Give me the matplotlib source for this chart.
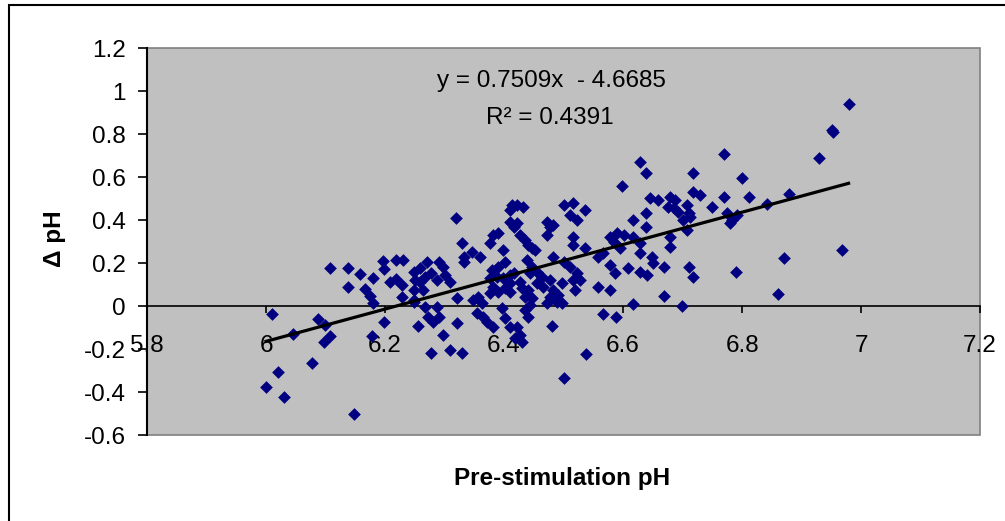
import matplotlib
matplotlib.use("Agg")
import matplotlib.pyplot as plt
import numpy as np
from matplotlib.patches import Rectangle
from matplotlib.ticker import FuncFormatter

plt.rcParams['font.family'] = ['Liberation Sans', 'DejaVu Sans']

# values
pre_ph = [
    6.010, 6.020, 6.000, 6.030, 6.046, 6.077, 6.087, 6.099, 6.108, 6.097,
    6.108, 6.137, 6.158, 6.179, 6.137, 6.166, 6.175, 6.179, 6.148, 6.197,
    6.218, 6.198, 6.208, 6.218, 6.228, 6.228, 6.248, 6.250, 6.248, 6.249,
    6.198, 6.255, 6.178, 6.231, 6.259, 6.270, 6.267, 6.278, 6.290, 6.298,
    6.301, 6.287, 6.309, 6.259, 6.264, 6.248, 6.319, 6.329, 6.346, 6.360,
    6.332, 6.332, 6.413, 6.421, 6.432, 6.410, 6.410, 6.421, 6.416, 6.382,
    6.390, 6.376, 6.427, 6.435, 6.441, 6.447, 6.452, 6.472, 6.477, 6.483,
    6.472, 6.483, 6.500, 6.516, 6.511, 6.522, 6.536, 6.516, 6.516, 6.500,
    6.511, 6.522, 6.516, 6.399, 6.402, 6.390, 6.379, 6.376, 6.388, 6.399,
    6.410, 6.416, 6.427, 6.410, 6.402, 6.382, 6.376, 6.390, 6.410, 6.438,
    6.447, 6.455, 6.444, 6.463, 6.455, 6.466, 6.441, 6.430, 6.435, 6.447,
    6.435, 6.444, 6.441, 6.477, 6.483, 6.491, 6.489, 6.477, 6.472, 6.480,
    6.519, 6.267, 6.287, 6.273, 6.290, 6.281, 6.298, 6.321, 6.321, 6.309,
    6.329, 6.278, 6.357, 6.348, 6.363, 6.354, 6.365, 6.371, 6.382, 6.396,
    6.402, 6.410, 6.421, 6.427, 6.430, 6.418, 6.629, 6.639, 6.598, 6.718,
    6.769, 6.645, 6.659, 6.679, 6.687, 6.676, 6.685, 6.693, 6.707, 6.710,
    6.718, 6.729, 6.749, 6.769, 6.701, 6.707, 6.617, 6.639, 6.639, 6.578,
    6.589, 6.601, 6.584, 6.595, 6.536, 6.558, 6.567, 6.629, 6.629, 6.648,
    6.651, 6.679, 6.679, 6.578, 6.587, 6.609, 6.629, 6.640, 6.668, 6.710,
    6.718, 6.528, 6.497, 6.558, 6.578, 6.669, 6.617, 6.699, 6.567, 6.588,
    6.497, 6.979, 6.951, 6.953, 6.930, 6.800, 6.811, 6.842, 6.879, 6.774,
    6.783, 6.791, 6.780, 6.968, 6.871, 6.789, 6.861, 6.538, 6.500, 6.713,
    6.617,
]
delta_ph = [
    -0.037, -0.307, -0.374, -0.420, -0.130, -0.266, -0.059, -0.087, -0.138, -0.168,
    0.177, 0.180, 0.150, 0.132, 0.092, 0.079, 0.046, 0.015, -0.502, 0.211,
    0.215, 0.173, 0.113, 0.126, 0.101, 0.041, 0.161, 0.122, 0.076, 0.020,
    -0.074, -0.093, -0.136, 0.215, 0.177, 0.207, 0.138, 0.153, 0.207, 0.184,
    0.146, 0.122, 0.114, 0.114, 0.076, 0.029, 0.409, 0.293, 0.254, 0.231,
    0.231, 0.206, 0.471, 0.471, 0.463, 0.448, 0.393, 0.386, 0.370, 0.332,
    0.340, 0.293, 0.332, 0.308, 0.285, 0.270, 0.262, 0.393, 0.370, 0.378,
    0.332, 0.231, 0.471, 0.479, 0.425, 0.401, 0.448, 0.324, 0.285, 0.207,
    0.184, 0.153, 0.122, 0.262, 0.207, 0.184, 0.169, 0.130, 0.138, 0.130,
    0.146, 0.153, 0.114, 0.107, 0.084, 0.091, 0.060, 0.068, 0.068, 0.215,
    0.184, 0.161, 0.153, 0.138, 0.107, 0.091, 0.076, 0.084, 0.045, 0.037,
    -0.017, 0.006, -0.048, 0.122, 0.076, 0.053, 0.021, 0.045, 0.014, -0.092,
    0.076, -0.002, -0.002, -0.048, -0.048, -0.072, -0.133, -0.079, 0.037, -0.203,
    -0.219, -0.219, 0.045, 0.029, 0.014, -0.033, -0.048, -0.072, -0.095, -0.009,
    -0.056, -0.095, -0.095, -0.133, -0.165, -0.149, 0.673, 0.621, 0.560, 0.621,
    0.708, 0.502, 0.494, 0.510, 0.494, 0.463, 0.456, 0.440, 0.471, 0.433,
    0.533, 0.518, 0.463, 0.510, 0.401, 0.355, 0.401, 0.433, 0.367, 0.324,
    0.340, 0.332, 0.300, 0.270, 0.270, 0.231, 0.247, 0.293, 0.247, 0.231,
    0.200, 0.324, 0.277, 0.192, 0.153, 0.177, 0.161, 0.146, 0.181, 0.184,
    0.138, 0.122, 0.107, 0.091, 0.076, 0.049, 0.011, 0.001, -0.036, -0.048,
    0.014, 0.941, 0.820, 0.812, 0.688, 0.595, 0.510, 0.476, 0.522, 0.433,
    0.401, 0.425, 0.386, 0.262, 0.223, 0.158, 0.057, -0.222, -0.335, 0.417,
    0.324,
]

# trendline as printed on the chart
slope = 0.7509
intercept = -4.6685
r_squared = 0.4391

x_ticks = [5.8, 6.0, 6.2, 6.4, 6.6, 6.8, 7.0, 7.2]
y_ticks = [-0.6, -0.4, -0.2, 0.0, 0.2, 0.4, 0.6, 0.8, 1.0, 1.2]

fig = plt.figure(figsize=(10.05, 5.21), dpi=100)
fig.patch.set_facecolor('white')
# chart frame: only its top and left edges fall inside the picture
fig.patches.append(Rectangle((9 / 1005, -0.05), 1.05, 1 - 5 / 521 + 0.05,
                             transform=fig.transFigure, fill=False,
                             edgecolor='black', linewidth=1.5))

ax = fig.add_axes([0.1463, 0.1645, 0.8289, 0.7428])
ax.set_facecolor('#C0C0C0')
ax.add_patch(Rectangle((0, 0), 1, 1, transform=ax.transAxes, fill=False,
                       edgecolor='#808080', linewidth=1.2, clip_on=False, zorder=1))

ax.scatter(pre_ph, delta_ph, marker='D', s=42, color='#000080',
           linewidths=0, zorder=3)

xs = np.array([min(pre_ph), max(pre_ph)])
ax.plot(xs, slope * xs + intercept, color='black', linewidth=2.3, zorder=4)

ax.set_xlim(5.8, 7.2)
ax.set_ylim(-0.6, 1.2)
ax.set_xticks(x_ticks)
ax.set_yticks(y_ticks)
fmt = FuncFormatter(lambda v, p: '%g' % round(v, 2))
ax.xaxis.set_major_formatter(fmt)
ax.yaxis.set_major_formatter(fmt)

for side in ['top', 'right']:
    ax.spines[side].set_visible(False)
ax.spines['bottom'].set_position(('data', 0))
ax.spines['bottom'].set_linewidth(1.2)
ax.spines['left'].set_linewidth(1.5)

ax.tick_params(axis='x', direction='out', length=5, width=1.2, pad=16,
               labelsize=17.5)
ax.tick_params(axis='y', direction='out', length=6.5, width=1.2, pad=9,
               labelsize=17.5)

ax.text(0.485, 0.9155, 'y = 0.7509x  - 4.6685', transform=ax.transAxes,
        ha='center', va='center', fontsize=17.5)
ax.text(0.484, 0.820, 'R² = %.4f' % r_squared, transform=ax.transAxes,
        ha='center', va='center', fontsize=17.5)

fig.text(54 / 1005, 1 - 239 / 521, 'Δ pH', rotation=90, ha='center',
         va='center', fontsize=17.5, fontweight='bold')
fig.text(562 / 1005, 1 - 478 / 521, 'Pre-stimulation pH', ha='center',
         va='center', fontsize=17.5, fontweight='bold')

fig.savefig('out.png', dpi=100)
